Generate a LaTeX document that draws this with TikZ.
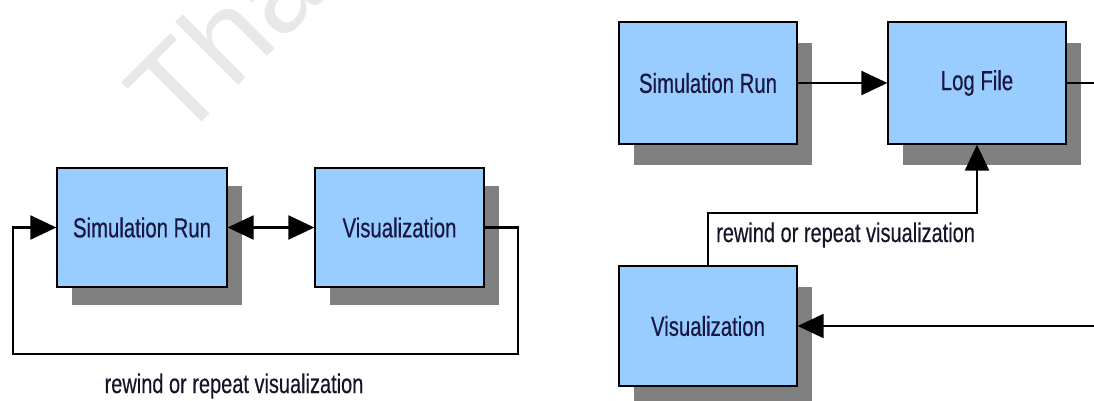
\documentclass[tikz,border=0pt]{standalone}
\usepackage{fontspec}
\setmainfont{Liberation Sans}
\newfontfamily\narrowfont{Liberation Sans}[FakeStretch=0.74,FakeBold=0.35]
\usetikzlibrary{arrows.meta,shadows}
\definecolor{boxblue}{HTML}{99CCFF}
\definecolor{shadegray}{HTML}{808080}
\definecolor{boxtext}{HTML}{171742}
\definecolor{labeltext}{HTML}{15152A}
\definecolor{markgray}{HTML}{E8E8E8}
\tikzset{
  stepbox/.style={draw=black, line width=1.3pt, fill=boxblue, text=boxtext,
    font=\narrowfont\fontsize{27.5}{30}\selectfont, inner sep=0pt},
  leftshade/.style={drop shadow={shadow xshift=15pt, shadow yshift=-18pt,
    opacity=1, fill=shadegray}},
  rightshade/.style={drop shadow={shadow xshift=15pt, shadow yshift=-21pt,
    opacity=1, fill=shadegray}},
  flow/.style={draw=black, line width=2.3pt},
  bigtip/.style={-{Triangle[length=26pt,width=24pt]}},
  looplabel/.style={text=labeltext, font=\narrowfont\fontsize{27}{30}\selectfont,
    inner sep=0pt},
}
\begin{document}
\begin{tikzpicture}[x=1pt, y=-1pt]
  \useasboundingbox (0,0) rectangle (1094,401);
  \clip (0,0) rectangle (1094,401);

  % faint rotated mark in the upper left corner
  \node[anchor=base west, rotate=45, inner sep=0pt, text=markgray,
        font=\fontsize{123}{130}\selectfont] (mark) at (179,145) {Tha};

  % ---- left diagram: run and visualization side by side ----
  \node[stepbox, leftshade, minimum width=170pt, minimum height=119pt]
    (lsim) at (142,227.5) {Simulation Run};
  \node[stepbox, leftshade, minimum width=169pt, minimum height=119pt]
    (lvis) at (399.5,227.5) {Visualization};

  \draw[flow, {Triangle[length=26pt,width=24pt]}-{Triangle[length=26pt,width=24pt]}]
    (lsim.east) -- (lvis.west);

  \coordinate (lloopR) at (518,354);
  \coordinate (lloopL) at (13,354);
  \draw[flow, bigtip] (lvis.east) -| (lloopR) -- (lloopL) |- (lsim.west);
  \node[looplabel, anchor=base] (llabel) at (234,393)
    {rewind or repeat visualization};

  % ---- right diagram: run, log file, replayed visualization ----
  \node[stepbox, rightshade, minimum width=178pt, minimum height=122pt]
    (rsim) at (708,83) {Simulation Run};
  \node[stepbox, rightshade, minimum width=178pt, minimum height=122pt]
    (log) at (977,83) {Log File};
  \node[stepbox, rightshade, minimum width=178pt, minimum height=120pt]
    (rvis) at (708,326) {Visualization};

  \draw[flow, bigtip] (rsim.east) -- (log.west);

  \coordinate (logout) at (1100,83);
  \draw[flow] (log.east) -- (logout);

  \coordinate (rwturn) at (977,213);
  \draw[flow, bigtip] (rvis.north) |- (rwturn) -- (log.south);
  \node[looplabel, anchor=base west] (rlabel) at (716,242)
    {rewind or repeat visualization};

  \coordinate (visin) at (1100,326);
  \draw[flow, bigtip] (visin) -- (rvis.east);
\end{tikzpicture}
\end{document}
